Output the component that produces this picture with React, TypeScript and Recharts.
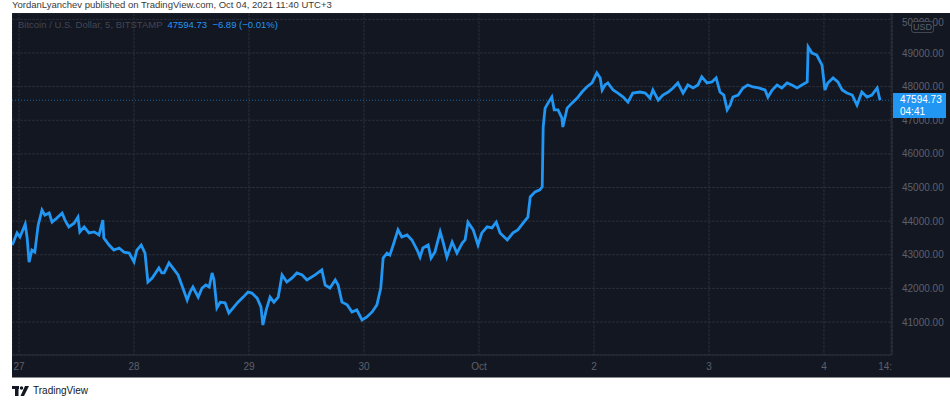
import React from 'react';
import { LineChart, Line, XAxis, YAxis, CartesianGrid, ReferenceLine } from 'recharts';

// hours since Sep 27 00:00 (UTC+3), 5-min BTCUSD at ~1h steps
const hours = [
  -1.4, -0.4, 0.2, 1.3, 1.7, 2.1, 2.7, 3.3, 4.0, 4.8, 5.4, 6.3, 6.9, 7.9, 9.0, 9.6, 10.4, 11.5, 12.3, 12.7,
  13.6, 14.6, 15.7, 16.7, 17.5, 17.7, 18.8, 19.8, 20.9, 21.9, 23.0, 24.0, 24.6, 25.5, 26.3, 26.9, 27.8, 29.2, 29.8,
  30.3, 31.3, 32.1, 33.2, 34.2, 35.1, 35.7, 36.3, 37.4, 38.2, 39.0, 39.7, 40.3, 40.7, 41.3, 42.0, 43.0, 43.8,
  44.7, 45.7, 46.8, 47.8, 48.6, 49.7, 50.5, 50.9, 51.6, 52.4, 53.2, 54.1, 54.9, 55.9, 57.0, 58.0, 59.1, 60.1,
  61.8, 63.2, 63.9, 64.9, 66.0, 66.6, 67.4, 68.5, 69.5, 70.5, 71.6, 72.6, 73.7, 74.7, 75.5, 76.0, 76.8, 77.4,
  78.1, 79.1, 79.9, 81.0, 82.0, 83.1, 83.7, 84.3, 85.4, 86.0, 86.8, 87.9, 88.5, 89.3, 90.4, 91.4, 92.5, 93.1,
  93.7, 94.8, 95.8, 96.6, 97.7, 98.7, 99.6, 100.4, 101.9, 103.1, 104.1, 105.2, 106.2, 106.7, 107.7, 108.7,
  109.2, 109.4, 109.8, 110.4, 111.2, 111.7, 112.5, 113.3, 113.5, 114.4, 115.4, 116.5, 117.5, 118.5, 119.6,
  120.6, 121.3, 121.7, 122.3, 122.9, 124.0, 125.0, 126.1, 127.1, 128.1, 129.6, 130.7, 131.7, 132.3, 133.4,
  134.4, 135.5, 136.5, 137.5, 138.6, 139.6, 140.7, 141.7, 142.5, 143.6, 144.6, 145.5, 146.3, 147.1, 147.8,
  148.4, 149.0, 150.1, 151.1, 152.1, 153.2, 154.4, 155.7, 156.3, 157.2, 158.2, 159.2, 160.3, 161.3, 162.4,
  163.4, 164.5, 164.7, 165.5, 166.5, 167.6, 168.2, 168.8, 169.9, 170.9, 171.8, 172.8, 173.9, 174.9, 175.9,
  177.0, 178.0, 179.1, 179.7,
];

const prices = [
  43290, 43650, 43530, 43910, 43500, 42780, 43140, 43080, 43880, 44330, 44180, 44240, 43970, 44090, 44240, 44030, 43830, 43940, 44120, 43680,
  43830, 43650, 43680, 43590, 44030, 43500, 43290, 43140, 43200, 43080, 43050, 42790, 43140, 43290, 43050, 42190, 42310, 42610, 42460,
  42460, 42760, 42610, 42400, 42010, 41650, 41890, 42040, 41740, 42010, 42100, 42040, 42460, 42250, 41420, 41590, 41570, 41270,
  41420, 41590, 41740, 41890, 41860, 41710, 41450, 40910, 41360, 41740, 41590, 41740, 42400, 42190, 42310, 42460, 42400, 42250,
  42400, 42550, 42100, 42010, 42250, 42100, 41590, 41510, 41300, 41360, 41060, 41150, 41300, 41510, 42010, 42900, 43050, 42990,
  43290, 43740, 43530, 43590, 43440, 43140, 42930, 43200, 43290, 42900, 43080, 43680, 43380, 42930, 43380, 43050, 43350, 43440,
  43970, 43740, 43290, 43650, 43830, 43800, 43970, 43650, 43440, 43650, 43740, 43940, 44120, 44720, 44870, 44930,
  45020, 46800, 47360, 47510, 47690, 47310, 47310, 47070, 46800, 47360, 47510, 47660, 47840, 47990, 48110,
  48410, 48260, 47900, 48050, 48110, 47900, 47810, 47690, 47540, 47810, 47840, 47810, 47660, 47900, 47600,
  47750, 47840, 47960, 48110, 47810, 48050, 47960, 48050, 48290, 48110, 48140, 48260, 47840, 47750, 47310,
  47450, 47690, 47750, 47960, 48050, 47990, 47960, 47900, 47690, 47900, 48050, 47960, 48110, 48050, 47960,
  48050, 48140, 49180, 49000, 48940, 48640, 47900, 48110, 48260, 48140, 47900, 47810, 47750, 47450, 47840,
  47690, 47750, 47960, 47594.73,
];

const dayTicks = [0, 24, 48, 72, 96, 120, 144, 168, 182];
const dayLabels = ['27', '28', '29', '30', 'Oct', '2', '3', '4', '14:'];
const priceTicks = [41000, 42000, 43000, 44000, 45000, 46000, 47000, 48000, 49000, 50000];
const lastPrice = 47594.73;

const data = hours.map((h, i) => ({ h, price: prices[i] }));

const W = 938;
const H = 364;
const AXIS_W = 58;
const AXIS_H = 22;
const FONT = '"Liberation Sans", Arial, sans-serif';
const DIM = '#5d606b';

const XTick = (props: any) => {
  const { x, payload } = props;
  const i = dayTicks.indexOf(payload.value);
  const last = payload.value === 182;
  return (
    <text x={last ? x + 1 : x} y={H - AXIS_H + 15} textAnchor={last ? 'end' : 'middle'} fill={DIM} fontSize={10} fontFamily={FONT}>
      {dayLabels[i]}
    </text>
  );
};

const YTick = (props: any) => {
  const { y, payload } = props;
  return (
    <text x={W - AXIS_W + 10} y={y + 3.5} textAnchor="start" fill={DIM} fontSize={10} fontFamily={FONT}>
      {payload.value.toFixed(2)}
    </text>
  );
};

export default function App() {
  return (
    <div style={{ position: 'absolute', left: 0, top: 0, width: 950, height: 401, background: '#fff', overflow: 'hidden', fontFamily: FONT }}>
      <div style={{ position: 'absolute', left: 12, top: -1, fontSize: 9.5, color: '#3a3a3a', whiteSpace: 'nowrap' }}>
        YordanLyanchev published on TradingView.com, Oct 04, 2021 11:40 UTC+3
      </div>

      <div style={{ position: 'absolute', left: 12, top: 13, width: W, height: H, background: '#131722', borderBottom: '1px solid #8a8a8a' }}>
        <LineChart width={W} height={H} data={data} margin={{ top: 0, right: 0, bottom: 0, left: 0 }}>
          <CartesianGrid stroke="#2a2e39" strokeDasharray="3 1" />
          <XAxis
            dataKey="h"
            type="number"
            domain={[-1.46, 182.2]}
            ticks={dayTicks}
            tick={<XTick />}
            height={AXIS_H}
            axisLine={{ stroke: '#2a2e39' }}
            tickLine={false}
            allowDataOverflow
          />
          <YAxis
            orientation="right"
            type="number"
            domain={[40019, 50190]}
            ticks={priceTicks}
            tick={<YTick />}
            width={AXIS_W}
            axisLine={{ stroke: '#2a2e39' }}
            tickLine={false}
            allowDataOverflow
          />
          <ReferenceLine y={lastPrice} stroke="#2196f3" strokeDasharray="1 2" strokeOpacity={0.6} />
          <Line
            type="linear"
            dataKey="price"
            stroke="#2196f3"
            strokeWidth={2.8}
            dot={false}
            isAnimationActive={false}
          />
        </LineChart>

        <div style={{ position: 'absolute', left: 6, top: 6, fontSize: 9.5, whiteSpace: 'nowrap' }}>
          <span style={{ color: '#434651' }}>Bitcoin / U.S. Dollar, 5, BITSTAMP</span>
          <span style={{ color: '#2196f3', marginLeft: 5 }}>47594.73&nbsp;&nbsp;−6.89 (−0.01%)</span>
        </div>

        <div style={{ position: 'absolute', left: 899, top: 8, width: 21, height: 10, border: '1px solid #434651', borderRadius: 3, background: '#131722', color: '#5d606b', fontSize: 9, lineHeight: '10px', textAlign: 'center' }}>
          USD
        </div>

        <div style={{ position: 'absolute', left: 881, top: 80, width: 53, height: 25, background: '#2196f3', color: '#fff', fontSize: 10, lineHeight: '12px', paddingLeft: 7, boxSizing: 'border-box', paddingTop: 1 }}>
          <div>47594.73</div>
          <div>04:41</div>
        </div>
      </div>

      <div style={{ position: 'absolute', left: 12, top: 385, display: 'flex', alignItems: 'center', fontSize: 10, color: '#131722' }}>
        <svg width={17} height={10} viewBox="0 0 17 10">
          <rect x={0} y={0} width={7} height={3} fill="#131722" />
          <rect x={3} y={0} width={3.5} height={10} fill="#131722" />
          <circle cx={9.5} cy={2} r={1.7} fill="#131722" />
          <polygon points="13,0 17,0 12,10 8.5,10" fill="#131722" />
        </svg>
        <span style={{ marginLeft: 4 }}>TradingView</span>
      </div>
    </div>
  );
}
